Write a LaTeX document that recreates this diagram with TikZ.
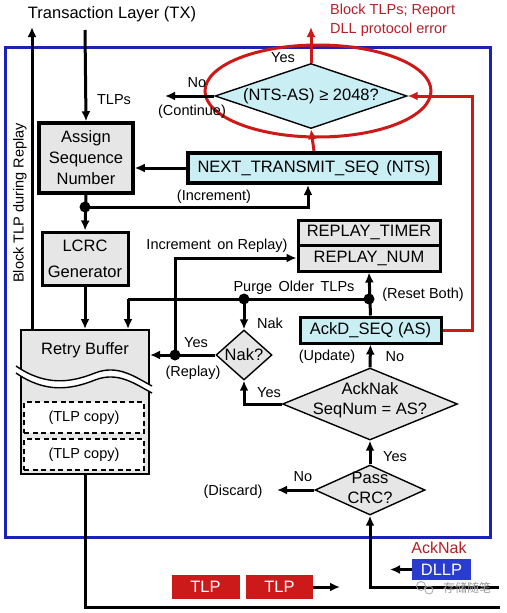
\documentclass[tikz,border=0pt]{standalone}
\usepackage{fontspec}
\setmainfont{Liberation Sans}
\newfontfamily\cjkwm{Noto Sans CJK SC}
\usetikzlibrary{arrows.meta,shapes.geometric}
\definecolor{lgray}{HTML}{E6E6E6}
\definecolor{lcyan}{HTML}{C9EEF4}
\definecolor{dred}{HTML}{CC1A1A}
\definecolor{tred}{HTML}{B3202A}
\definecolor{bblue}{HTML}{1A22B8}
\definecolor{dblue}{HTML}{2A3CD0}
\newcommand{\fsbox}{\fontsize{16.5}{21}\selectfont}
\newcommand{\fslab}{\fontsize{14.5}{19}\selectfont}
\begin{document}
\begin{tikzpicture}[x=1pt,y=-1pt,
  box/.style={draw, line width=3pt, fill=lgray, inner sep=0pt, font=\fsbox, align=center},
  cbox/.style={box, fill=lcyan},
  dia/.style={draw, line width=1.4pt, fill=lgray, shape=diamond, inner sep=0pt},
  dtext/.style={font=\fsbox, align=center, inner sep=0pt},
  lab/.style={font=\fslab, inner sep=0pt, align=center},
  copybox/.style={draw, dash pattern=on 5pt off 3.5pt, line width=1.4pt, fill=white, minimum width=120pt, minimum height=31pt, inner sep=0pt, font=\fslab},
  arr/.style={line width=3pt, -{Latex[length=10pt,width=9pt]}},
  plain/.style={line width=3pt},
  redarr/.style={line width=3pt, draw=dred, -{Latex[length=10pt,width=9pt]}},
  dot/.style={fill=black}
]
\useasboundingbox (0,0) rectangle (506,613);
\fill[white] (0,0) rectangle (506,613);

% blue frame
\draw[bblue, line width=3pt] (5,47) rectangle (490,537);

% top texts
\node[font=\fsbox, inner sep=0pt] (tx) at (112,14) {Transaction Layer (TX)};
\node[lab, text=tred, align=left, anchor=west] (blk) at (330,20) {Block TLPs; Report\\DLL protocol error};
\node[lab, rotate=90] (btr) at (20,203) {Block TLP during Replay};

% boxes
\node[box, line width=3.5pt, minimum width=94pt, minimum height=70pt] (asn) at (86,158) {Assign\\Sequence\\Number};
\node[cbox, line width=4pt, minimum width=252pt, minimum height=30pt] (nts) at (314,168) {NEXT\_TRANSMIT\_SEQ\, (NTS)};
\node[box, minimum width=86pt, minimum height=53pt, font=\fontsize{16.5}{26}\selectfont] (lcrc) at (85,258.5) {LCRC\\Generator};
\node[box, minimum width=142pt, minimum height=25pt] (rt) at (369,232.5) {REPLAY\_TIMER};
\node[box, minimum width=142pt, minimum height=26pt] (rn) at (369,258) {REPLAY\_NUM};
\node[cbox, minimum width=141pt, minimum height=26pt] (as) at (370.5,330) {AckD\_SEQ (AS)};

% retry buffer
\node[draw, line width=2pt, fill=lgray, minimum width=128pt, minimum height=144pt, inner sep=0pt] (rb) at (85,402) {};
\node[font=\fsbox, inner sep=0pt] (rbt) at (85,350) {Retry Buffer};
\fill[white] (16,366) .. controls (45,386) and (70,383) .. (95,373) .. controls (118,364) and (135,377) .. (152,386)
  -- (152,393) .. controls (135,384) and (118,371) .. (95,380) .. controls (70,390) and (45,393) .. (16,373) -- cycle;
\draw[line width=1.4pt] (16,366) .. controls (45,386) and (70,383) .. (95,373) .. controls (118,364) and (135,377) .. (152,386);
\draw[line width=1.4pt] (16,373) .. controls (45,393) and (70,390) .. (95,380) .. controls (118,371) and (135,384) .. (152,393);
\node[copybox] (c1) at (84,417.5) {(TLP copy)};
\node[copybox] (c2) at (84,454.5) {(TLP copy)};

% diamonds
\node[dia, fill=lcyan, minimum width=192pt, minimum height=65pt, shape aspect=3] (ntsd) at (311,96) {};
\node[dtext] (ntsdt) at (311,96) {(NTS-AS) ≥ 2048?};
\node[dia, minimum width=175pt, minimum height=72pt] (ack) at (370,404) {};
\node[dtext, font=\fontsize{16.5}{20}\selectfont] (ackt) at (370,400) {AckNak\\SeqNum = AS?};
\node[dia, minimum width=110pt, minimum height=50pt] (crc) at (370,490) {};
\node[dtext, font=\fontsize{16.5}{19.5}\selectfont] (crct) at (370,488) {Pass\\CRC?};
\node[dia, minimum width=56pt, minimum height=50pt] (nak) at (244,355) {};
\node[dtext] (nakt) at (244,355) {Nak?};

% red ellipse
\draw[dred, line width=3pt] (318,91) ellipse [x radius=113, y radius=46];

% coordinates
\coordinate (upend) at (32,27);
\coordinate (txin) at (85,30);
\coordinate (inc) at (85,207);
\coordinate (pj) at (369,299);
\coordinate (pn) at (244,299);
\coordinate (pl) at (128,299);
\coordinate (rd) at (175,355);
\coordinate (cont) at (165,96);
\coordinate (blkend) at (311,27);
\coordinate (redc) at (472,330);
\coordinate (outc) at (85,607);
\coordinate (outr) at (500,607);
\coordinate (tlpend) at (340,587);
\coordinate (din) at (499,587);
\coordinate (dllpend) at (390,569.5);
\coordinate (disc) at (277,490);

% black connectors
\draw[arr] (txin) -- (asn.north);
\draw[arr] (upend |- rb.north) -- (upend);
\draw[arr] (nts.west) -- (nts.west -| asn.east);
\draw[arr] (asn.south) -- (lcrc.north);
\draw[arr] (inc) -| ([xshift=-6pt]nts.south);
\fill[dot] (inc) circle (5.5);
\draw[arr] (lcrc.south) -- (lcrc.south |- rb.north);
\draw[plain] (rb.south) -- (outc) -- (outr);
\draw[arr] (ntsd.west) -- (cont);
\draw[arr] (crc.west) -- (disc);
\draw[arr] (crc.north) -- (ack.south);
\draw[arr] (ack.west) -| (nak.south);
\draw[arr] (ack.north) -- (as.south);
\draw[arr] (as.north) -- (rn.south);
\draw[plain] (pj) -- (pl);
\draw[arr] (pl) -- (pl |- rb.north);
\draw[arr] (pn) -- (nak.north);
\fill[dot] (pj) circle (5.5);
\fill[dot] (pn) circle (5.5);
\draw[arr] (nak.west) -- (nak.west -| rb.east);
\draw[arr] (rd) |- (rn.west);
\fill[dot] (rd) circle (5.5);

% red connectors
\draw[redarr] (nts.north) -- (ntsd.south);
\draw[redarr] (ntsd.north) -- (blkend);
\draw[redarr] (as.east) -- (redc) |- (ntsd.east);

% labels
\node[lab] (l1) at (114,100) {TLPs};
\node[lab] (l2) at (197,83) {No};
\node[lab] (l3) at (192,112) {(Continue)};
\node[lab] (l4) at (283,58) {Yes};
\node[lab] (l5) at (214,197) {(Increment)};
\node[lab] (l6) at (217,246) {Increment\, on Replay)};
\node[lab] (l7) at (294,288) {Purge\, Older\, TLPs};
\node[lab] (l8) at (423,295) {(Reset Both)};
\node[lab] (l9) at (270,323) {Nak};
\node[lab] (l10) at (196,343) {Yes};
\node[lab] (l11) at (193,373) {(Replay)};
\node[lab] (l12) at (327,357) {(Update)};
\node[lab] (l13) at (395,357) {No};
\node[lab] (l14) at (269,393) {Yes};
\node[lab] (l15) at (395,457) {Yes};
\node[lab] (l16) at (303,477) {No};
\node[lab] (l17) at (233,492) {(Discard)};

% bottom area
\node[fill=dred, text=white, minimum width=68pt, minimum height=24pt, inner sep=0pt, font=\fsbox] (tlp1) at (205.5,587) {TLP};
\node[fill=dred, text=white, minimum width=67pt, minimum height=24pt, inner sep=0pt, font=\fsbox] (tlp2) at (279.5,587) {TLP};
\draw[arr] (tlp2.east) -- (tlpend);
\node[fill=dblue, text=white, minimum width=59pt, minimum height=21pt, inner sep=0pt, font=\fsbox] (dllp) at (441.5,569.5) {DLLP};
\node[lab, text=tred, font=\fontsize{16}{19}\selectfont] (ackn) at (439,548) {AckNak};
\draw[arr] (dllp.west) -- (dllpend);
\draw[arr] (din) -| (crc.south);

% watermark
\draw[gray!70, line width=0.8pt] (421,586) circle (4.5);
\draw[gray!70, line width=0.8pt] (429,590) circle (4);
\node[text=gray!80, inner sep=0pt, font=\cjkwm\fontsize{12}{14}\selectfont] (wm) at (467,588) {存储随笔};
\end{tikzpicture}
\end{document}
